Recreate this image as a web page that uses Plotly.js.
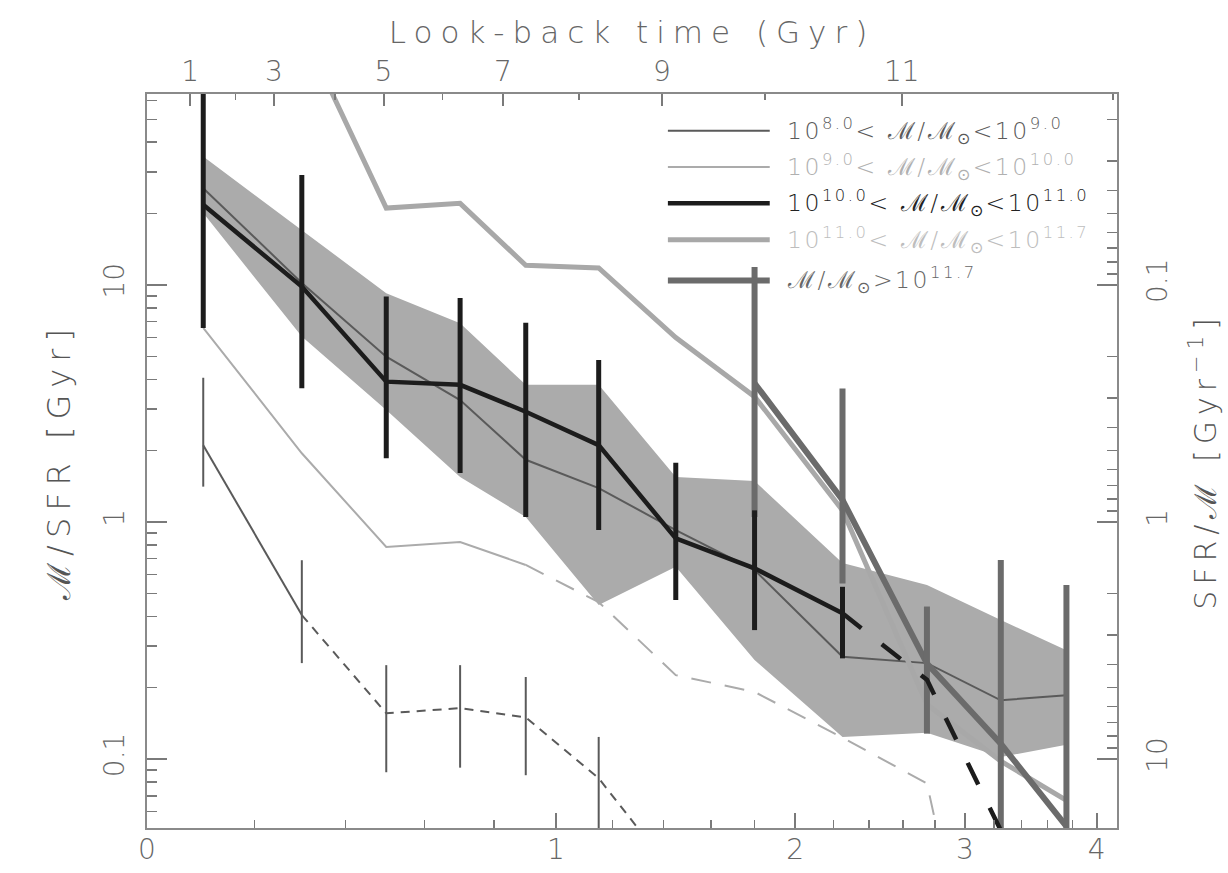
<!DOCTYPE html>
<html>
<head>
<meta charset="utf-8">
<script src="https://cdn.plot.ly/plotly-3.0.1.min.js"></script>
<style>
  body { margin: 0; background: #fff; }
  #chart { width: 1228px; height: 873px; }
  .x2title { letter-spacing: 8px; }
  .ytitle { letter-spacing: 7px; }
  .y2title { letter-spacing: 6px; }
  .annotation-text { letter-spacing: 2.5px; }
</style>
</head>
<body>
<div id="chart"></div>
<script>
// Redshift bins (the bottom axis is logarithmic in 1+z)
const z = [0.1, 0.3, 0.5, 0.7, 0.9, 1.15, 1.45, 1.8, 2.25, 2.75, 3.25, 3.75];

// M/SFR [Gyr] per stellar-mass bin
const m8_9      = [2.11, 0.405, 0.156, 0.164, 0.150, 0.083, 0.032, null, null, null, null, null];
const m8_9Hi    = [4.06, 0.69, 0.249, 0.249, 0.222, 0.124, null, null, null, null, null, null];
const m8_9Lo    = [1.41, 0.254, 0.088, 0.092, 0.0855, 0.04, null, null, null, null, null, null];

const m9_10     = [6.59, 1.95, 0.785, 0.824, 0.659, 0.459, 0.226, 0.192, 0.123, 0.079, 0.003, null];

const m10_11    = [21.8, 9.84, 3.91, 3.79, 2.92, 2.11, 0.853, 0.638, 0.412, 0.216, 0.05, null];
const m10_11Hi  = [150, 29.1, 8.93, 8.81, 6.92, 4.83, 1.78, 1.12, 0.533, null, null, null];
const m10_11Lo  = [6.59, 3.67, 1.86, 1.61, 1.05, 0.925, 0.469, 0.35, 0.266, null, null, null];

const m11_117   = [null, 120, 21.1, 22.1, 12.1, 11.8, 6.0, 3.38, 1.12, 0.17, 0.098, 0.067];

const m117      = [null, null, null, null, null, null, null, 3.85, 1.24, 0.253, 0.116, 0.052];
const m117Hi    = [null, null, null, null, null, null, null, 11.9, 3.66, 0.44, 0.692, 0.542];
const m117Lo    = [null, null, null, null, null, null, null, 1.05, 0.551, 0.128, 0.04, 0.04];

// Whole sample and its shaded range
const allMass   = [25.6, 10.2, 4.98, 3.27, 1.83, 1.39, 0.925, 0.627, 0.270, 0.254, 0.177, 0.186];
const bandHi    = [34.8, 17.1, 9.23, 6.89, 3.79, 3.79, 1.55, 1.49, 0.671, 0.542, 0.386, 0.288];
const bandLo    = [20.1, 6.06, 2.97, 1.55, 1.05, 0.447, 0.647, 0.262, 0.124, 0.129, 0.102, 0.115];

// Index from which each incomplete series is drawn dashed
const dashFrom = { m8_9: 1, m9_10: 4, m10_11: 8 };

// Axis ticks
const zTicks = [0, 1, 2, 3, 4];
const zMinor = [0.2, 0.4, 0.6, 0.8, 1.2, 1.4, 1.6, 1.8, 2.2, 2.4, 2.6, 2.8, 3.2, 3.4, 3.6, 3.8, 4.2];
const lookbackLabels = ['1', '3', '5', '7', '9', '11'];
const lookbackAt1pz  = [1.076, 1.240, 1.493, 1.828, 2.393, 3.594];   // 1+z of odd Gyr marks
const lookbackMinor  = [1.162, 1.375, 1.650, 2.079, 2.849, 5.14];    // 1+z of even Gyr marks
const yTicks = [0.1, 1, 10];
const yTickText = ['0.1', '1', '10'];

// Axis limits
const zMax = 4.175;
const yMin = 0.0512, yMax = 63.9;

// ---------------------------------------------------------------
const xp = z.map(v => 1 + v);
const onePlus = a => a.map(v => 1 + v);
const mask = (arr, i0, i1) => arr.map((v, i) => (i >= i0 && i <= i1 ? v : null));
const logMinor = (lo, hi) => {
  const out = [];
  for (let e = lo; e <= hi; e++) for (let d = 2; d <= 9; d++) out.push(d * Math.pow(10, e));
  return out;
};

const S = {
  thinDark:  { color: '#5a5a5a', width: 2 },
  thinLight: { color: '#ababab', width: 2 },
  black:     { color: '#1c1c1c', width: 4.5 },
  thickLight:{ color: '#a8a8a8', width: 5 },
  thickDark: { color: '#6b6b6b', width: 6 },
  band:      '#ababab'
};

function lineTrace(y, st, dash) {
  return {
    x: xp, y: y, mode: 'lines', type: 'scatter',
    line: { color: st.color, width: st.width, dash: dash || 'solid' },
    connectgaps: false, hoverinfo: 'skip', showlegend: false
  };
}
function errTrace(y, hi, lo, color, thickness) {
  return {
    x: xp, y: y, mode: 'markers', type: 'scatter',
    marker: { size: 1, color: 'rgba(0,0,0,0)' },
    error_y: {
      type: 'data', symmetric: false, visible: true,
      array: y.map((v, i) => (v == null || hi[i] == null ? 0 : hi[i] - v)),
      arrayminus: y.map((v, i) => (v == null || lo[i] == null ? 0 : v - lo[i])),
      color: color, thickness: thickness, width: 0
    },
    hoverinfo: 'skip', showlegend: false
  };
}

const n = z.length - 1;
const traces = [
  // shaded range of the whole sample
  {
    x: xp.concat(xp.slice().reverse()),
    y: bandHi.concat(bandLo.slice().reverse()),
    mode: 'lines', fill: 'toself', fillcolor: S.band,
    line: { width: 0, color: S.band }, hoverinfo: 'skip', showlegend: false
  },
  lineTrace(allMass, S.thinDark),
  // 10^8 - 10^9
  lineTrace(mask(m8_9, 0, dashFrom.m8_9), S.thinDark),
  lineTrace(mask(m8_9, dashFrom.m8_9, n), S.thinDark, '9px,7px'),
  errTrace(m8_9, m8_9Hi, m8_9Lo, S.thinDark.color, 2),
  // 10^9 - 10^10
  lineTrace(mask(m9_10, 0, dashFrom.m9_10), S.thinLight),
  lineTrace(mask(m9_10, dashFrom.m9_10, n), S.thinLight, '20px,14px'),
  // 10^11 - 10^11.7
  lineTrace(m11_117, S.thickLight),
  // > 10^11.7
  lineTrace(m117, S.thickDark),
  errTrace(m117, m117Hi, m117Lo, S.thickDark.color, 6),
  // 10^10 - 10^11
  lineTrace(mask(m10_11, 0, dashFrom.m10_11), S.black),
  lineTrace(mask(m10_11, dashFrom.m10_11, n), S.black, '24px,26px'),
  errTrace(m10_11, m10_11Hi, m10_11Lo, S.black.color, 5),
  // carries the top and right axes
  { x: [1.5], y: [1], xaxis: 'x2', yaxis: 'y2', mode: 'markers',
    marker: { size: 1, color: 'rgba(0,0,0,0)' }, hoverinfo: 'skip', showlegend: false }
];

// Legend drawn as short line samples with labels
const M = 'ℳ';
const legendItems = [
  { text: `10<sup>8.0</sup>&lt; ${M}/${M}<sub>⊙</sub>&lt;10<sup>9.0</sup>`,   st: S.thinDark,  txt: '#5a5a5a' },
  { text: `10<sup>9.0</sup>&lt; ${M}/${M}<sub>⊙</sub>&lt;10<sup>10.0</sup>`,  st: S.thinLight, txt: '#b0b0b0' },
  { text: `10<sup>10.0</sup>&lt; ${M}/${M}<sub>⊙</sub>&lt;10<sup>11.0</sup>`, st: S.black,     txt: '#222222' },
  { text: `10<sup>11.0</sup>&lt; ${M}/${M}<sub>⊙</sub>&lt;10<sup>11.7</sup>`, st: S.thickLight,txt: '#bdbdbd' },
  { text: `${M}/${M}<sub>⊙</sub>&gt;10<sup>11.7</sup>`,                       st: S.thickDark, txt: '#666666' }
];
const legX0 = 0.537, legX1 = 0.642, legTextX = 0.658, legTop = 0.95, legStep = 0.0495;
const shapes = [], annotations = [];
legendItems.forEach((it, k) => {
  const yy = legTop - k * legStep - (k === 4 ? 0.006 : 0);
  shapes.push({ type: 'line', xref: 'paper', yref: 'paper', x0: legX0, x1: legX1, y0: yy, y1: yy,
                line: { color: it.st.color, width: it.st.width } });
  annotations.push({ xref: 'paper', yref: 'paper', x: legTextX, y: yy, xanchor: 'left', yanchor: 'middle',
                     text: it.text, showarrow: false, font: { size: 23.5, color: it.txt } });
});

const axisCommon = {
  showgrid: false, zeroline: false, showline: true, linecolor: '#8a8a8a', linewidth: 2,
  ticks: 'inside', tickcolor: '#7a7a7a', tickwidth: 2,
  tickfont: { size: 28, color: '#666' }
};

const layout = {
  width: 1228, height: 873,
  margin: { l: 147, r: 111, t: 94, b: 45 },
  paper_bgcolor: '#fff', plot_bgcolor: '#fff',
  font: { family: 'DejaVu Sans', weight: 200, color: '#666' },
  showlegend: false,
  xaxis: Object.assign({}, axisCommon, {
    type: 'log', range: [0, Math.log10(1 + zMax)],
    tickmode: 'array', tickvals: onePlus(zTicks), ticktext: zTicks.map(String),
    ticklen: 15, ticklabelstandoff: -5,
    minor: { tickmode: 'array', tickvals: onePlus(zMinor), ticklen: 8, tickwidth: 1.5, tickcolor: '#7a7a7a', ticks: 'inside' }
  }),
  xaxis2: Object.assign({}, axisCommon, {
    type: 'log', range: [0, Math.log10(1 + zMax)], overlaying: 'x', side: 'top', anchor: 'y',
    tickmode: 'array', tickvals: lookbackAt1pz, ticktext: lookbackLabels,
    ticklen: 12, ticklabelstandoff: 0,
    tickfont: { size: 28, color: '#666' },
    minor: { tickmode: 'array', tickvals: lookbackMinor, ticklen: 6, tickwidth: 1.5, tickcolor: '#7a7a7a', ticks: 'inside' },
    title: { text: 'Look-back time (Gyr)', font: { size: 31, color: '#666' }, standoff: 2 }
  }),
  yaxis: Object.assign({}, axisCommon, {
    type: 'log', range: [Math.log10(yMin), Math.log10(yMax)],
    tickmode: 'array', tickvals: yTicks, ticktext: yTickText, tickangle: -90,
    ticklen: 20, ticklabelstandoff: 10,
    minor: { tickmode: 'array', tickvals: logMinor(-2, 1), ticklen: 10, tickwidth: 1.5, tickcolor: '#7a7a7a', ticks: 'inside' },
    title: { text: `${M}/SFR [Gyr]`, font: { size: 32, color: '#555' }, standoff: 18 }
  }),
  yaxis2: Object.assign({}, axisCommon, {
    type: 'log', range: [Math.log10(1 / yMin), Math.log10(1 / yMax)],
    overlaying: 'y', side: 'right', anchor: 'x',
    tickmode: 'array', tickvals: yTicks, ticktext: yTickText, tickangle: -90,
    ticklen: 20, ticklabelstandoff: 14,
    minor: { tickmode: 'array', tickvals: logMinor(-2, 1), ticklen: 10, tickwidth: 1.5, tickcolor: '#7a7a7a', ticks: 'inside' },
    title: { text: `SFR/${M} [Gyr<sup>−1</sup>]`, font: { size: 30, color: '#555' }, standoff: 22 }
  }),
  shapes: shapes,
  annotations: annotations
};

Plotly.newPlot('chart', traces, layout, { staticPlot: true, displayModeBar: false });
</script>
</body>
</html>
